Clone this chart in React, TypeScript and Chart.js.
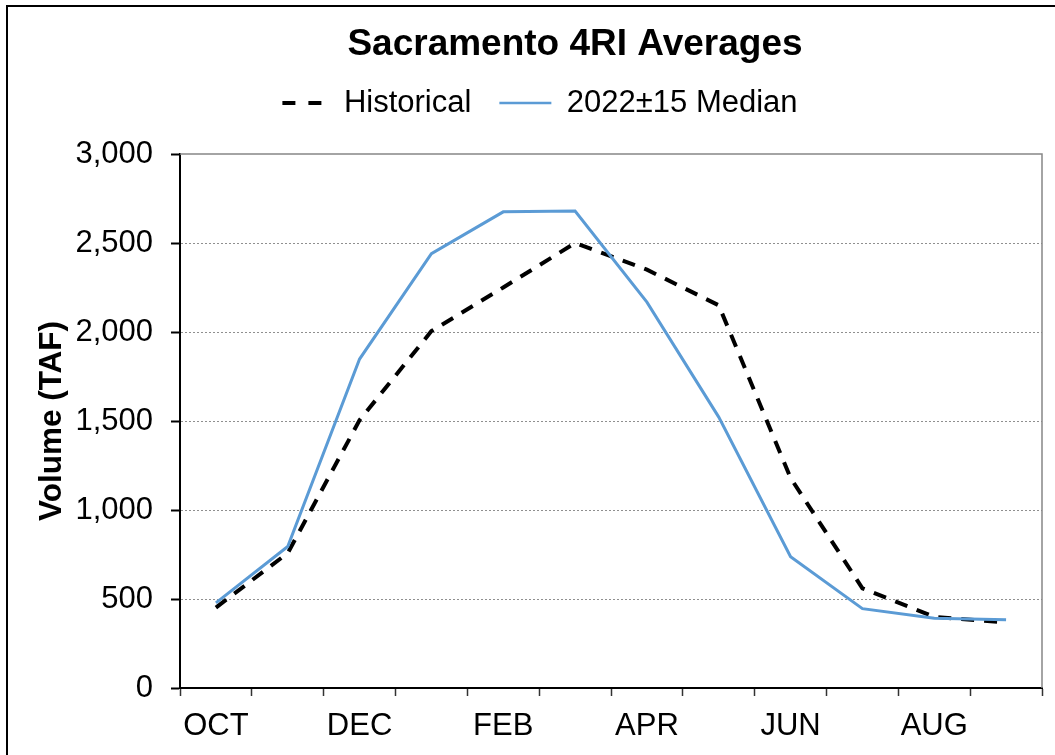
import React, { useEffect, useRef } from 'react';
import { Chart, registerables } from 'chart.js';

Chart.register(...registerables);

const months = ['OCT', 'NOV', 'DEC', 'JAN', 'FEB', 'MAR', 'APR', 'MAY', 'JUN', 'JUL', 'AUG', 'SEP'];
const shownMonthLabels = ['OCT', '', 'DEC', '', 'FEB', '', 'APR', '', 'JUN', '', 'AUG', ''];
const historical = [452, 758, 1505, 2005, 2250, 2500, 2350, 2150, 1180, 560, 400, 368];
const median2022 = [478, 795, 1848, 2440, 2675, 2680, 2168, 1522, 738, 446, 392, 383];
const yTicks = [0, 500, 1000, 1500, 2000, 2500, 3000];

const FONT = '"Liberation Sans", Arial, Helvetica, sans-serif';
const CANVAS_W = 1134;
const CANVAS_H = 800;
const TITLE_DX = 50;
const LEGEND_DX = 12;
const LEGEND_DY = -25.5;

const blockShift = {
  id: 'blockShift',
  afterLayout(chart: any) {
    const t = chart.titleBlock;
    if (t) {
      t.left += TITLE_DX;
      t.right += TITLE_DX;
    }
    const l = chart.legend;
    if (l) {
      l.left += LEGEND_DX;
      l.right += LEGEND_DX;
      l.top += LEGEND_DY;
      l.bottom += LEGEND_DY;
    }
  },
};

const plotFrame = {
  id: 'plotFrame',
  beforeDatasetsDraw(chart: any) {
    const { ctx, chartArea } = chart;
    const { left, right, top, bottom } = chartArea;
    ctx.save();
    ctx.strokeStyle = '#878787';
    ctx.lineWidth = 1.5;
    ctx.beginPath();
    ctx.moveTo(left, top);
    ctx.lineTo(right, top);
    ctx.lineTo(right, bottom);
    ctx.stroke();
    ctx.restore();
  },
};

export default function App() {
  const ref = useRef<HTMLCanvasElement | null>(null);

  useEffect(() => {
    if (!ref.current) return;
    const chart = new Chart(ref.current, {
      type: 'line',
      data: {
        labels: months,
        datasets: [
          {
            label: 'Historical',
            data: historical,
            borderColor: '#000000',
            backgroundColor: '#000000',
            borderWidth: 4,
            borderDash: [13, 10],
            borderCapStyle: 'butt',
            pointRadius: 0,
            tension: 0,
            fill: false,
            order: 1,
          },
          {
            label: '2022±15 Median',
            data: median2022,
            borderColor: '#5B9BD5',
            backgroundColor: '#5B9BD5',
            borderWidth: 3,
            pointRadius: 0,
            tension: 0,
            fill: false,
            order: 0,
          },
        ],
      },
      options: {
        responsive: false,
        animation: false,
        devicePixelRatio: 1,
        layout: { padding: { left: 0, right: 100, top: 0, bottom: 0 } },
        plugins: {
          title: {
            display: true,
            text: 'Sacramento 4RI Averages',
            color: '#000',
            font: { family: FONT, size: 37, weight: 'bold', lineHeight: 1.2 },
            padding: { top: 15.8, bottom: 17.8 },
          },
          legend: {
            display: true,
            position: 'top',
            labels: {
              usePointStyle: true,
              pointStyle: 'line',
              pointStyleWidth: 52,
              boxHeight: 31,
              padding: 28,
              color: '#000',
              font: { family: FONT, size: 31 },
              sort: (a: any, b: any) => a.datasetIndex - b.datasetIndex,
              generateLabels: (c: any) => {
                const items = Chart.defaults.plugins.legend.labels.generateLabels(c);
                items.forEach((it: any) => {
                  const ds = c.data.datasets[it.datasetIndex];
                  it.strokeStyle = ds.borderColor;
                  it.lineWidth = ds.borderDash ? 4 : 2.5;
                  it.lineDash = ds.borderDash ? [13, 13] : [];
                  it.lineDashOffset = ds.borderDash ? -6 : 0;
                  it.lineCap = 'butt';
                });
                return items;
              },
            },
          },
          tooltip: { enabled: false },
        },
        scales: {
          x: {
            type: 'category',
            offset: true,
            grid: {
              offset: true,
              drawOnChartArea: false,
              drawTicks: true,
              tickLength: 8,
              tickColor: '#333',
              tickWidth: 1.5,
            },
            border: { color: '#000', width: 2 },
            ticks: {
              autoSkip: false,
              maxRotation: 0,
              minRotation: 0,
              padding: 12,
              color: '#000',
              font: { family: FONT, size: 31 },
              callback: (_v: any, i: number) => shownMonthLabels[i],
            },
            afterFit: (s: any) => {
              s.height = 119;
            },
          },
          y: {
            min: 0,
            max: 3000,
            afterBuildTicks: (s: any) => {
              s.ticks = yTicks.map((v) => ({ value: v }));
            },
            grid: {
              color: (c: any) => {
                const v = c.tick ? c.tick.value : 0;
                return v > 0 && v < 3000 ? '#8f8f8f' : 'rgba(0,0,0,0)';
              },
              lineWidth: 1,
              tickLength: 9,
              tickColor: '#000',
              tickWidth: 2,
            },
            border: { color: '#000', width: 2, dash: [2, 2] },
            ticks: {
              padding: 18,
              color: '#000',
              font: { family: FONT, size: 31 },
              callback: (v: any) => Number(v).toLocaleString('en-US'),
            },
            title: {
              display: true,
              text: 'Volume (TAF)',
              color: '#000',
              font: { family: FONT, size: 31.5, weight: 'bold' },
              padding: { top: 25, bottom: 0 },
            },
            afterFit: (s: any) => {
              s.width = 172;
            },
          },
        },
      } as any,
      plugins: [blockShift, plotFrame],
    });
    return () => chart.destroy();
  }, []);

  return (
    <div
      style={{
        position: 'fixed',
        left: 0,
        top: 0,
        width: 1055,
        height: 755,
        overflow: 'hidden',
        background: '#fff',
      }}
    >
      <div
        style={{
          position: 'absolute',
          left: 6,
          top: 5,
          width: 1300,
          height: 900,
          borderLeft: '2px solid #000',
          borderTop: '2px solid #000',
          boxSizing: 'border-box',
        }}
      />
      <canvas
        ref={ref}
        width={CANVAS_W}
        height={CANVAS_H}
        style={{ position: 'absolute', left: 8, top: 7, display: 'block' }}
      />
    </div>
  );
}
